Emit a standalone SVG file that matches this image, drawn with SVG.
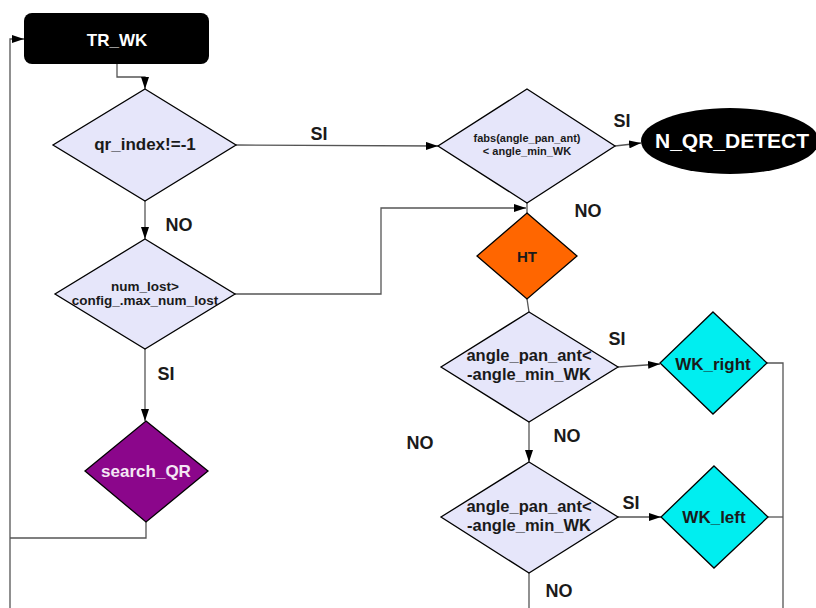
<svg xmlns="http://www.w3.org/2000/svg" width="816" height="608" viewBox="0 0 816 608">
<defs>
<marker id="arr" markerWidth="12" markerHeight="8" refX="12" refY="4" orient="auto" markerUnits="userSpaceOnUse">
<path d="M0,0 L12,4 L0,8 Z" fill="#000"/>
</marker>
<style>
text{font-family:"Liberation Sans",Arial,sans-serif;font-weight:bold;text-anchor:middle;fill:#1a1a1a}
.dia{fill:#e6e6fa;stroke:#000;stroke-width:1.3}
.conn path{fill:none;stroke:#555;stroke-width:1.3}
.lbl{font-size:18px}
.w{fill:#fff}
</style>
</defs>
<rect width="816" height="608" fill="#fff"/>
<g class="conn" id="connectors">
<path d="M117,63 V77 H145 V89" marker-end="url(#arr)"/>
<path d="M236,145 L438,146" marker-end="url(#arr)"/>
<path d="M145,201 V239" marker-end="url(#arr)"/>
<path d="M235,294 H381 V208 H526" marker-end="url(#arr)"/>
<path d="M527,203 V213"/>
<path d="M615,146 L641,143" marker-end="url(#arr)"/>
<path d="M145,349 V421" marker-end="url(#arr)"/>
<path d="M146,522 V538 H10"/>
<path d="M10,608 V39 H24" marker-end="url(#arr)"/>
<path d="M527,299 L529,312"/>
<path d="M618,367 L660,364" marker-end="url(#arr)"/>
<path d="M767,363 H783 V608"/>
<path d="M529,422 V462" marker-end="url(#arr)"/>
<path d="M618,517 H661" marker-end="url(#arr)"/>
<path d="M768,517 H783"/>
<path d="M529,573 V608"/>
</g>
<g id="labels">
<text class="lbl" x="319" y="140">SI</text>
<text class="lbl" x="622" y="127">SI</text>
<text class="lbl" x="179" y="231">NO</text>
<text class="lbl" x="588" y="217">NO</text>
<text class="lbl" x="166" y="380">SI</text>
<text class="lbl" x="617" y="345">SI</text>
<text class="lbl" x="567" y="442">NO</text>
<text class="lbl" x="420" y="449">NO</text>
<text class="lbl" x="631" y="509">SI</text>
<text class="lbl" x="559" y="597">NO</text>
</g>
<g id="TR_WK">
<rect x="24" y="13" width="185" height="51" rx="8" fill="#000"/>
<text class="w" x="117" y="46" font-size="17">TR_WK</text>
</g>
<g id="qr_index">
<polygon class="dia" points="145,89 236,145 145,201 53,145"/>
<text x="145" y="150" font-size="17">qr_index!=-1</text>
</g>
<g id="fabs">
<polygon class="dia" points="527,89 615,146 527,203 438,146"/>
<text x="527" y="142" font-size="11">fabs(angle_pan_ant)</text>
<text x="527" y="155" font-size="11">&lt; angle_min_WK</text>
</g>
<g id="N_QR_DETECT">
<ellipse cx="730" cy="141" rx="89" ry="33" fill="#000"/>
<text class="w" x="732" y="148" font-size="21">N_QR_DETECT</text>
</g>
<g id="num_lost">
<polygon class="dia" points="145,239 235,294 145,349 55,294"/>
<text x="145" y="291" font-size="13.5">num_lost&gt;</text>
<text x="145" y="305" font-size="13.5">config_.max_num_lost</text>
</g>
<g id="HT">
<polygon points="527,213 577,256 527,299 477,256" fill="#ff6600" stroke="#000" stroke-width="1.3"/>
<text x="527" y="262" font-size="15">HT</text>
</g>
<g id="search_QR">
<polygon points="146,421 208,471 146,522 85,471" fill="#8b068b" stroke="#000" stroke-width="1.3"/>
<text x="146" y="477" font-size="17" style="fill:#f4e6f4">search_QR</text>
</g>
<g id="angle1">
<polygon class="dia" points="529,312 618,367 529,422 441,367"/>
<text x="529" y="361" font-size="16.5">angle_pan_ant&lt;</text>
<text x="529" y="380" font-size="16.5">-angle_min_WK</text>
</g>
<g id="WK_right">
<polygon points="713,312 767,363 713,414 660,363" fill="#00eef0" stroke="#000" stroke-width="1.3"/>
<text x="713" y="370" font-size="17">WK_right</text>
</g>
<g id="angle2">
<polygon class="dia" points="529,462 618,517 529,573 441,517"/>
<text x="529" y="512" font-size="16.5">angle_pan_ant&lt;</text>
<text x="529" y="531" font-size="16.5">-angle_min_WK</text>
</g>
<g id="WK_left">
<polygon points="714,466 768,517 714,568 661,517" fill="#00eef0" stroke="#000" stroke-width="1.3"/>
<text x="714" y="523" font-size="17">WK_left</text>
</g>
</svg>
